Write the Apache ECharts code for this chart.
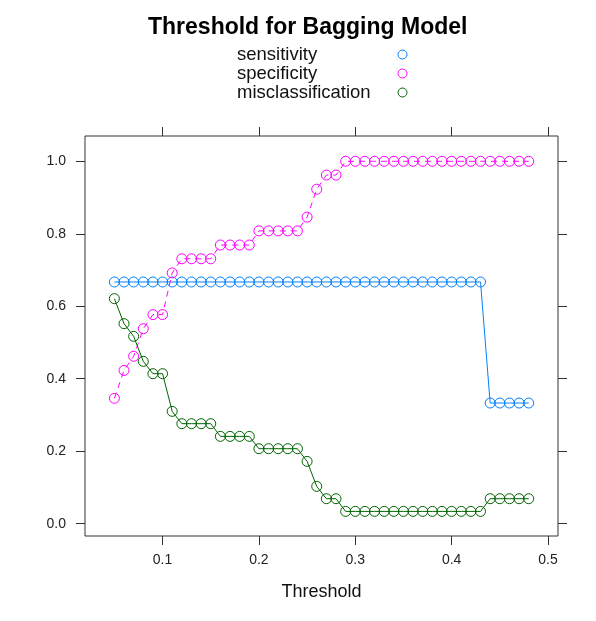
<!DOCTYPE html>
<html>
<head>
<meta charset="utf-8">
<script src="https://cdn.jsdelivr.net/npm/echarts@6/dist/echarts.min.js"></script>
<style>
    html, body { margin: 0; padding: 0; background: #fff; }
    #chart1 { width: 596px; height: 621px; }
</style>
</head>
<body>
<div id="chart1"></div>
<script>
var thresholds = [0.05, 0.06, 0.07, 0.08, 0.09, 0.10, 0.11, 0.12, 0.13, 0.14, 0.15,
    0.16, 0.17, 0.18, 0.19, 0.20, 0.21, 0.22, 0.23, 0.24, 0.25, 0.26, 0.27, 0.28,
    0.29, 0.30, 0.31, 0.32, 0.33, 0.34, 0.35, 0.36, 0.37, 0.38, 0.39, 0.40, 0.41,
    0.42, 0.43, 0.44, 0.45, 0.46, 0.47, 0.48];

var sensitivity = [0.667, 0.667, 0.667, 0.667, 0.667, 0.667, 0.667, 0.667, 0.667, 0.667, 0.667,
    0.667, 0.667, 0.667, 0.667, 0.667, 0.667, 0.667, 0.667, 0.667, 0.667, 0.667, 0.667, 0.667,
    0.667, 0.667, 0.667, 0.667, 0.667, 0.667, 0.667, 0.667, 0.667, 0.667, 0.667, 0.667, 0.667,
    0.667, 0.667, 0.333, 0.333, 0.333, 0.333, 0.333];

var specificity = [0.346, 0.423, 0.462, 0.538, 0.577, 0.577, 0.692, 0.731, 0.731, 0.731, 0.731,
    0.769, 0.769, 0.769, 0.769, 0.808, 0.808, 0.808, 0.808, 0.808, 0.846, 0.923, 0.962, 0.962,
    1.0, 1.0, 1.0, 1.0, 1.0, 1.0, 1.0, 1.0, 1.0, 1.0, 1.0, 1.0, 1.0,
    1.0, 1.0, 1.0, 1.0, 1.0, 1.0, 1.0];

var misclassification = [0.621, 0.552, 0.517, 0.448, 0.414, 0.414, 0.310, 0.276, 0.276, 0.276, 0.276,
    0.241, 0.241, 0.241, 0.241, 0.207, 0.207, 0.207, 0.207, 0.207, 0.172, 0.103, 0.069, 0.069,
    0.034, 0.034, 0.034, 0.034, 0.034, 0.034, 0.034, 0.034, 0.034, 0.034, 0.034, 0.034, 0.034,
    0.034, 0.034, 0.069, 0.069, 0.069, 0.069, 0.069];

var xTicks = [0.1, 0.2, 0.3, 0.4, 0.5];
var yTicks = [0.0, 0.2, 0.4, 0.6, 0.8, 1.0];

var font = "'Liberation Sans', Arial, sans-serif";

function pairs(ys) {
    return thresholds.map(function (t, i) { return [t, ys[i]]; });
}

function makeSeries(name, color, ys, dashed) {
    return {
        name: name,
        type: "line",
        data: pairs(ys),
        symbol: "circle",
        symbolSize: 10,
        showSymbol: true,
        itemStyle: { color: "rgba(0,0,0,0)", borderColor: color, borderWidth: 1 },
        lineStyle: { color: color, width: 1, type: dashed ? [6, 5] : "solid" },
        emphasis: { disabled: true },
        animation: false
    };
}

var boxAxisX = function (pos, labels) {
    return {
        type: "value",
        position: pos,
        min: 0.0195,
        max: 0.5104,
        splitLine: { show: false },
        axisLine: { show: false, onZero: false },
        axisTick: { show: true, inside: false, length: 9, customValues: xTicks,
            lineStyle: { color: "#333", width: 1 } },
        axisLabel: { show: labels, customValues: xTicks, margin: 17, fontSize: 14,
            fontFamily: font, color: "#222",
            formatter: function (v) { return v.toFixed(1); } },
        name: labels ? "Threshold" : "",
        nameLocation: "middle",
        nameGap: 47,
        nameTextStyle: { fontSize: 18, fontFamily: font, color: "#111" }
    };
};

var boxAxisY = function (pos, labels) {
    return {
        type: "value",
        position: pos,
        min: -0.0339,
        max: 1.0698,
        splitLine: { show: false },
        axisLine: { show: false, onZero: false },
        axisTick: { show: true, inside: false, length: 9, customValues: yTicks,
            lineStyle: { color: "#333", width: 1 } },
        axisLabel: { show: labels, customValues: yTicks, margin: 19, fontSize: 14,
            fontFamily: font, color: "#222",
            formatter: function (v) { return v.toFixed(1); } }
    };
};

var option = {
    backgroundColor: "#fff",
    animation: false,
    title: {
        text: "Threshold for Bagging Model",
        left: 148,
        top: 16,
        padding: 0,
        textStyle: { fontSize: 23, fontWeight: "bold", fontFamily: font, color: "#000" }
    },
    legend: {
        data: ["sensitivity", "specificity", "misclassification"],
        orient: "vertical",
        left: 237,
        top: 45,
        padding: 0,
        itemGap: 0,
        align: "right",
        icon: "circle",
        itemWidth: 9,
        itemHeight: 9,
        itemStyle: { borderWidth: 1 },
        selectedMode: false,
        formatter: function (name) { return "{n|" + name + "}"; },
        textStyle: {
            fontSize: 18.5, fontFamily: font, color: "#111",
            rich: { n: { width: 156, align: "left", fontSize: 18.5, fontFamily: font,
                color: "#111", lineHeight: 19 } }
        }
    },
    grid: {
        left: 85,
        right: 38,
        top: 136,
        bottom: 85,
        show: true,
        borderColor: "#333",
        borderWidth: 1,
        backgroundColor: "transparent"
    },
    xAxis: [boxAxisX("bottom", true), boxAxisX("top", false)],
    yAxis: [boxAxisY("left", true), boxAxisY("right", false)],
    series: [
        makeSeries("sensitivity", "#0080ff", sensitivity, false),
        makeSeries("specificity", "#ff00ff", specificity, true),
        makeSeries("misclassification", "#006400", misclassification, false)
    ]
};

var echart_1 = echarts.init(document.getElementById('chart1'));
echart_1.setOption(option);
</script>
</body>
</html>
